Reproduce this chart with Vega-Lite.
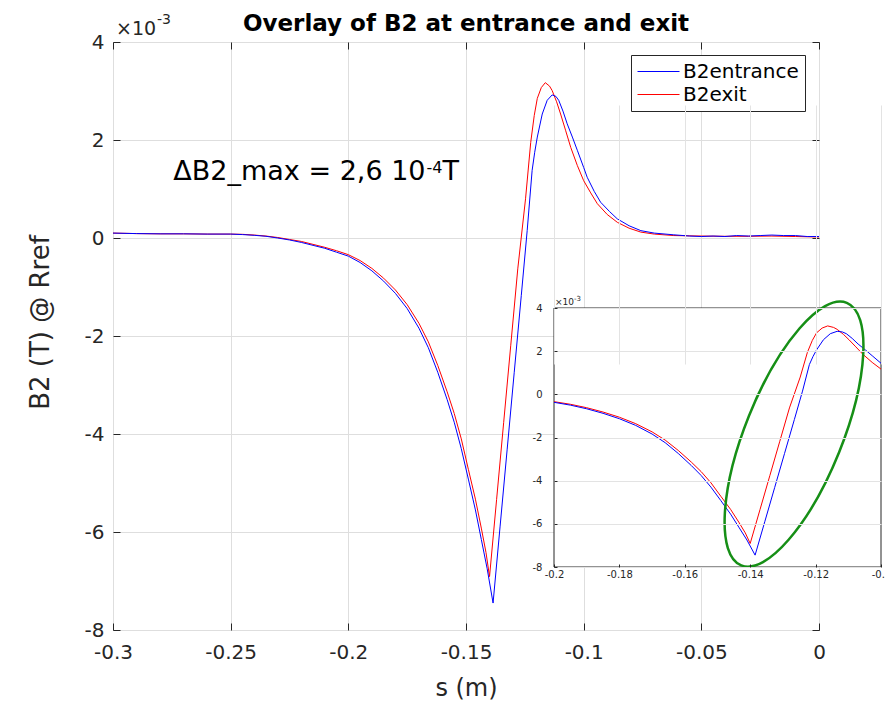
{
  "$schema": "https://vega.github.io/schema/vega-lite/v6.json",
  "width": 706,
  "height": 588,
  "autosize": {"type": "none"},
  "padding": {"left": 113, "top": 42, "right": 66, "bottom": 71},
  "background": "white",
  "config": {
    "view": {"stroke": "#262626", "strokeWidth": 1},
    "font": "DejaVu Sans",
    "axis": {"labelFont": "DejaVu Sans", "titleFont": "DejaVu Sans", "titleFontWeight": "normal", "labelColor": "#262626", "titleColor": "#262626", "tickColor": "#262626", "domainColor": "#262626", "labelFlush": false, "labelOverlap": false, "labelBound": false}
  },
  "title": {"text": "Overlay of B2 at entrance and exit", "font": "DejaVu Sans", "fontSize": 23, "fontWeight": "bold", "color": "black", "anchor": "middle", "frame": "group", "baseline": "alphabetic", "offset": 13, "dy": 54},
  "datasets": {
    "b2": [
      {"series": "B2exit", "s": -0.300, "B2": 0.00010},
      {"series": "B2exit", "s": -0.290, "B2": 0.00009},
      {"series": "B2exit", "s": -0.280, "B2": 0.000085},
      {"series": "B2exit", "s": -0.270, "B2": 0.000085},
      {"series": "B2exit", "s": -0.260, "B2": 0.00008},
      {"series": "B2exit", "s": -0.250, "B2": 0.00008},
      {"series": "B2exit", "s": -0.245, "B2": 0.000075},
      {"series": "B2exit", "s": -0.240, "B2": 0.00006},
      {"series": "B2exit", "s": -0.235, "B2": 0.00004},
      {"series": "B2exit", "s": -0.230, "B2": 0.00001},
      {"series": "B2exit", "s": -0.225, "B2": -0.00003},
      {"series": "B2exit", "s": -0.220, "B2": -0.00007},
      {"series": "B2exit", "s": -0.215, "B2": -0.00013},
      {"series": "B2exit", "s": -0.210, "B2": -0.00019},
      {"series": "B2exit", "s": -0.205, "B2": -0.00026},
      {"series": "B2exit", "s": -0.200, "B2": -0.00034},
      {"series": "B2exit", "s": -0.195, "B2": -0.00046},
      {"series": "B2exit", "s": -0.190, "B2": -0.00062},
      {"series": "B2exit", "s": -0.185, "B2": -0.00082},
      {"series": "B2exit", "s": -0.180, "B2": -0.00106},
      {"series": "B2exit", "s": -0.175, "B2": -0.00136},
      {"series": "B2exit", "s": -0.170, "B2": -0.00174},
      {"series": "B2exit", "s": -0.166, "B2": -0.00212},
      {"series": "B2exit", "s": -0.162, "B2": -0.00260},
      {"series": "B2exit", "s": -0.158, "B2": -0.00314},
      {"series": "B2exit", "s": -0.155, "B2": -0.00358},
      {"series": "B2exit", "s": -0.152, "B2": -0.00410},
      {"series": "B2exit", "s": -0.149, "B2": -0.00472},
      {"series": "B2exit", "s": -0.146, "B2": -0.00533},
      {"series": "B2exit", "s": -0.1435, "B2": -0.00592},
      {"series": "B2exit", "s": -0.1415, "B2": -0.00642},
      {"series": "B2exit", "s": -0.140, "B2": -0.00691},
      {"series": "B2exit", "s": -0.137, "B2": -0.00534},
      {"series": "B2exit", "s": -0.134, "B2": -0.00377},
      {"series": "B2exit", "s": -0.131, "B2": -0.00220},
      {"series": "B2exit", "s": -0.128, "B2": -0.00063},
      {"series": "B2exit", "s": -0.1247, "B2": 0.00080},
      {"series": "B2exit", "s": -0.1225, "B2": 0.00195},
      {"series": "B2exit", "s": -0.121, "B2": 0.00250},
      {"series": "B2exit", "s": -0.1197, "B2": 0.00285},
      {"series": "B2exit", "s": -0.118, "B2": 0.00307},
      {"series": "B2exit", "s": -0.1163, "B2": 0.00317},
      {"series": "B2exit", "s": -0.1145, "B2": 0.00310},
      {"series": "B2exit", "s": -0.1134, "B2": 0.00301},
      {"series": "B2exit", "s": -0.1115, "B2": 0.00278},
      {"series": "B2exit", "s": -0.1098, "B2": 0.00253},
      {"series": "B2exit", "s": -0.1077, "B2": 0.00220},
      {"series": "B2exit", "s": -0.1055, "B2": 0.00185},
      {"series": "B2exit", "s": -0.1027, "B2": 0.00148},
      {"series": "B2exit", "s": -0.100, "B2": 0.00117},
      {"series": "B2exit", "s": -0.097, "B2": 0.00092},
      {"series": "B2exit", "s": -0.0942, "B2": 0.00070},
      {"series": "B2exit", "s": -0.090, "B2": 0.00048},
      {"series": "B2exit", "s": -0.0857, "B2": 0.00032},
      {"series": "B2exit", "s": -0.0807, "B2": 0.00020},
      {"series": "B2exit", "s": -0.0757, "B2": 0.00012},
      {"series": "B2exit", "s": -0.070, "B2": 0.00008},
      {"series": "B2exit", "s": -0.0617, "B2": 0.00005},
      {"series": "B2exit", "s": -0.050, "B2": 0.00004},
      {"series": "B2exit", "s": -0.040, "B2": 0.000035},
      {"series": "B2exit", "s": -0.030, "B2": 0.000035},
      {"series": "B2exit", "s": -0.020, "B2": 0.00004},
      {"series": "B2exit", "s": -0.010, "B2": 0.00003},
      {"series": "B2exit", "s": 0.000, "B2": 0.00002},
      {"series": "B2entrance", "s": -0.300, "B2": 0.00010},
      {"series": "B2entrance", "s": -0.290, "B2": 0.00009},
      {"series": "B2entrance", "s": -0.280, "B2": 0.000085},
      {"series": "B2entrance", "s": -0.270, "B2": 0.000085},
      {"series": "B2entrance", "s": -0.260, "B2": 0.00008},
      {"series": "B2entrance", "s": -0.250, "B2": 0.00008},
      {"series": "B2entrance", "s": -0.245, "B2": 0.00007},
      {"series": "B2entrance", "s": -0.240, "B2": 0.000055},
      {"series": "B2entrance", "s": -0.235, "B2": 0.000035},
      {"series": "B2entrance", "s": -0.230, "B2": 0.0},
      {"series": "B2entrance", "s": -0.225, "B2": -0.00004},
      {"series": "B2entrance", "s": -0.220, "B2": -0.00009},
      {"series": "B2entrance", "s": -0.215, "B2": -0.00015},
      {"series": "B2entrance", "s": -0.210, "B2": -0.00021},
      {"series": "B2entrance", "s": -0.205, "B2": -0.00029},
      {"series": "B2entrance", "s": -0.200, "B2": -0.00037},
      {"series": "B2entrance", "s": -0.195, "B2": -0.00050},
      {"series": "B2entrance", "s": -0.190, "B2": -0.00067},
      {"series": "B2entrance", "s": -0.185, "B2": -0.00088},
      {"series": "B2entrance", "s": -0.180, "B2": -0.00113},
      {"series": "B2entrance", "s": -0.175, "B2": -0.00144},
      {"series": "B2entrance", "s": -0.170, "B2": -0.00184},
      {"series": "B2entrance", "s": -0.166, "B2": -0.00224},
      {"series": "B2entrance", "s": -0.162, "B2": -0.00274},
      {"series": "B2entrance", "s": -0.158, "B2": -0.00330},
      {"series": "B2entrance", "s": -0.155, "B2": -0.00376},
      {"series": "B2entrance", "s": -0.152, "B2": -0.00430},
      {"series": "B2entrance", "s": -0.149, "B2": -0.00492},
      {"series": "B2entrance", "s": -0.146, "B2": -0.00555},
      {"series": "B2entrance", "s": -0.1435, "B2": -0.00615},
      {"series": "B2entrance", "s": -0.141, "B2": -0.00675},
      {"series": "B2entrance", "s": -0.1385, "B2": -0.00745},
      {"series": "B2entrance", "s": -0.1355, "B2": -0.00588},
      {"series": "B2entrance", "s": -0.1325, "B2": -0.00431},
      {"series": "B2entrance", "s": -0.1295, "B2": -0.00274},
      {"series": "B2entrance", "s": -0.1265, "B2": -0.00117},
      {"series": "B2entrance", "s": -0.124, "B2": 0.00015},
      {"series": "B2entrance", "s": -0.1219, "B2": 0.00138},
      {"series": "B2entrance", "s": -0.1208, "B2": 0.00175},
      {"series": "B2entrance", "s": -0.1197, "B2": 0.00206},
      {"series": "B2entrance", "s": -0.1176, "B2": 0.00253},
      {"series": "B2entrance", "s": -0.1155, "B2": 0.00281},
      {"series": "B2entrance", "s": -0.1134, "B2": 0.00292},
      {"series": "B2entrance", "s": -0.1118, "B2": 0.00289},
      {"series": "B2entrance", "s": -0.1106, "B2": 0.00281},
      {"series": "B2entrance", "s": -0.1088, "B2": 0.00259},
      {"series": "B2entrance", "s": -0.107, "B2": 0.00233},
      {"series": "B2entrance", "s": -0.1048, "B2": 0.00206},
      {"series": "B2entrance", "s": -0.1027, "B2": 0.00179},
      {"series": "B2entrance", "s": -0.100, "B2": 0.00144},
      {"series": "B2entrance", "s": -0.0985, "B2": 0.00124},
      {"series": "B2entrance", "s": -0.0955, "B2": 0.00095},
      {"series": "B2entrance", "s": -0.0928, "B2": 0.00073},
      {"series": "B2entrance", "s": -0.089, "B2": 0.00054},
      {"series": "B2entrance", "s": -0.0857, "B2": 0.00039},
      {"series": "B2entrance", "s": -0.0807, "B2": 0.00025},
      {"series": "B2entrance", "s": -0.0757, "B2": 0.00015},
      {"series": "B2entrance", "s": -0.070, "B2": 0.00010},
      {"series": "B2entrance", "s": -0.0617, "B2": 0.000065},
      {"series": "B2entrance", "s": -0.055, "B2": 0.00004},
      {"series": "B2entrance", "s": -0.050, "B2": 0.00003},
      {"series": "B2entrance", "s": -0.045, "B2": 0.00004},
      {"series": "B2entrance", "s": -0.040, "B2": 0.00003},
      {"series": "B2entrance", "s": -0.035, "B2": 0.00005},
      {"series": "B2entrance", "s": -0.030, "B2": 0.00004},
      {"series": "B2entrance", "s": -0.025, "B2": 0.00005},
      {"series": "B2entrance", "s": -0.020, "B2": 0.00006},
      {"series": "B2entrance", "s": -0.015, "B2": 0.00005},
      {"series": "B2entrance", "s": -0.010, "B2": 0.00005},
      {"series": "B2entrance", "s": -0.005, "B2": 0.00003},
      {"series": "B2entrance", "s": 0.000, "B2": 0.00003}
    ]
  },
  "data": {"name": "b2"},
  "resolve": {"scale": {"x": "independent", "y": "independent"}},
  "layer": [
    {
      "mark": {"type": "line", "strokeWidth": 1},
      "encoding": {
        "x": {"field": "s", "type": "quantitative",
          "scale": {"domain": [-0.3, 0], "nice": false, "zero": false},
          "axis": {"orient": "bottom", "values": [-0.3, -0.25, -0.2, -0.15, -0.1, -0.05, 0], "labelExpr": "'' + datum.value", "grid": true, "gridColor": "#dedede", "domain": false, "tickSize": -7, "labelFontSize": 20, "labelPadding": 19, "title": "s (m)", "titleFontSize": 24, "titleBaseline": "alphabetic", "titleY": 65}},
        "y": {"field": "B2", "type": "quantitative",
          "scale": {"domain": [-0.008, 0.004], "nice": false, "zero": false},
          "axis": {"orient": "left", "values": [-0.008, -0.006, -0.004, -0.002, 0, 0.002, 0.004], "labelExpr": "'' + round(datum.value * 1000)", "grid": true, "gridColor": "#dedede", "domain": false, "tickSize": -7, "labelFontSize": 20, "labelPadding": 16, "title": "B2 (T) @ Rref", "titleFontSize": 26, "titleX": -73, "titleY": 280, "titleBaseline": "middle"}},
        "color": {"field": "series", "type": "nominal",
          "scale": {"domain": ["B2entrance", "B2exit"], "range": ["#0000ff", "#ff0000"]},
          "legend": {"orient": "none", "legendX": 518, "legendY": 13, "title": null, "strokeColor": "#262626", "fillColor": "white", "padding": 6, "cornerRadius": 0, "symbolType": "stroke", "symbolSize": 1764, "symbolStrokeWidth": 1, "labelFontSize": 20, "labelFont": "DejaVu Sans", "labelColor": "black", "clipHeight": 21, "rowPadding": 2, "labelOffset": 3}}
      }
    },
    {
      "data": {"values": [{}]},
      "layer": [
        {
          "mark": {"type": "text", "align": "right", "baseline": "alphabetic", "fontSize": 27, "color": "black", "text": "ΔB2_max = 2,6 10"},
          "encoding": {
            "x": {"datum": -0.1672, "type": "quantitative", "scale": {"domain": [-0.3, 0], "nice": false, "zero": false},
              "axis": {"orient": "top", "values": [-0.3, -0.25, -0.2, -0.15, -0.1, -0.05, 0], "labels": false, "grid": false, "domain": false, "tickSize": -7, "title": null}},
            "y": {"datum": 0.00119, "type": "quantitative", "scale": {"domain": [-0.008, 0.004], "nice": false, "zero": false},
              "axis": {"orient": "right", "values": [-0.008, -0.006, -0.004, -0.002, 0, 0.002, 0.004], "labels": false, "grid": false, "domain": false, "tickSize": -7, "title": null}}
          }
        },
        {
          "mark": {"type": "text", "align": "left", "baseline": "alphabetic", "fontSize": 16, "color": "black", "dx": 1, "dy": -7, "text": "-4"},
          "encoding": {"x": {"datum": -0.1672, "type": "quantitative"}, "y": {"datum": 0.00119, "type": "quantitative"}}
        },
        {
          "mark": {"type": "text", "align": "left", "baseline": "alphabetic", "fontSize": 27, "color": "black", "text": "T"},
          "encoding": {"x": {"datum": -0.16, "type": "quantitative"}, "y": {"datum": 0.00119, "type": "quantitative"}}
        },
        {
          "mark": {"type": "text", "align": "left", "baseline": "alphabetic", "fontSize": 19, "color": "#262626", "dx": 3, "dy": -7, "text": "×10"},
          "encoding": {"x": {"datum": -0.3, "type": "quantitative"}, "y": {"datum": 0.004, "type": "quantitative"}}
        },
        {
          "mark": {"type": "text", "align": "left", "baseline": "alphabetic", "fontSize": 14, "color": "#262626", "dx": 44, "dy": -18, "text": "-3"},
          "encoding": {"x": {"datum": -0.3, "type": "quantitative"}, "y": {"datum": 0.004, "type": "quantitative"}}
        }
      ]
    },
    {
      "layer": [
        {
          "data": {"values": [{}]},
          "mark": {"type": "rect", "fill": "white", "stroke": "#262626", "strokeWidth": 1},
          "encoding": {
            "x": {"datum": -0.2, "type": "quantitative",
              "scale": {"domain": [-0.2, -0.1], "range": [441, 768], "nice": false, "zero": false},
              "axis": {"orient": "bottom", "offset": -63, "values": [-0.2, -0.18, -0.16, -0.14, -0.12, -0.1], "labelExpr": "'' + datum.value", "grid": true, "gridColor": "#e3e3e3", "domain": false, "tickSize": -3, "labelFontSize": 10, "labelPadding": 5, "title": null, "zindex": 1}},
            "x2": {"datum": -0.1},
            "y": {"datum": -0.008, "type": "quantitative",
              "scale": {"domain": [-0.008, 0.004], "range": [525, 266], "nice": false, "zero": false},
              "axis": {"orient": "left", "offset": -441, "values": [-0.008, -0.006, -0.004, -0.002, 0, 0.002, 0.004], "labelExpr": "'' + round(datum.value * 1000)", "grid": true, "gridColor": "#e3e3e3", "domain": false, "tickSize": -3, "labelFontSize": 10, "labelPadding": 15, "title": null, "zindex": 1}},
            "y2": {"datum": 0.004}
          }
        },
        {
          "transform": [{"filter": "datum.s >= -0.2 && datum.s <= -0.1"}],
          "mark": {"type": "line", "strokeWidth": 1},
          "encoding": {
            "x": {"field": "s", "type": "quantitative"},
            "y": {"field": "B2", "type": "quantitative"},
            "stroke": {"field": "series", "type": "nominal", "scale": {"domain": ["B2entrance", "B2exit"], "range": ["#0000ff", "#ff0000"]}, "legend": null}
          }
        },
        {
          "data": {"values": [{}]},
          "mark": {"type": "point", "shape": "M0,-1 C0.1897,-1 0.3435,-0.5523 0.3435,0 C0.3435,0.5523 0.1897,1 0,1 C-0.1897,1 -0.3435,0.5523 -0.3435,0 C-0.3435,-0.5523 -0.1897,-1 0,-1 Z", "size": 80089, "angle": 21.9, "filled": false, "stroke": "#168f16", "strokeWidth": 2.5, "opacity": 1},
          "encoding": {"x": {"datum": -0.1266, "type": "quantitative"}, "y": {"datum": -0.001844, "type": "quantitative"}}
        },
        {
          "data": {"values": [{}]},
          "mark": {"type": "text", "align": "left", "baseline": "alphabetic", "fontSize": 9, "color": "#262626", "dx": 1, "dy": -3, "text": "×10"},
          "encoding": {"x": {"datum": -0.2, "type": "quantitative"}, "y": {"datum": 0.004, "type": "quantitative"}}
        },
        {
          "data": {"values": [{}]},
          "mark": {"type": "text", "align": "left", "baseline": "alphabetic", "fontSize": 7, "color": "#262626", "dx": 20, "dy": -7, "text": "-3"},
          "encoding": {"x": {"datum": -0.2, "type": "quantitative"}, "y": {"datum": 0.004, "type": "quantitative"}}
        }
      ]
    }
  ]
}
